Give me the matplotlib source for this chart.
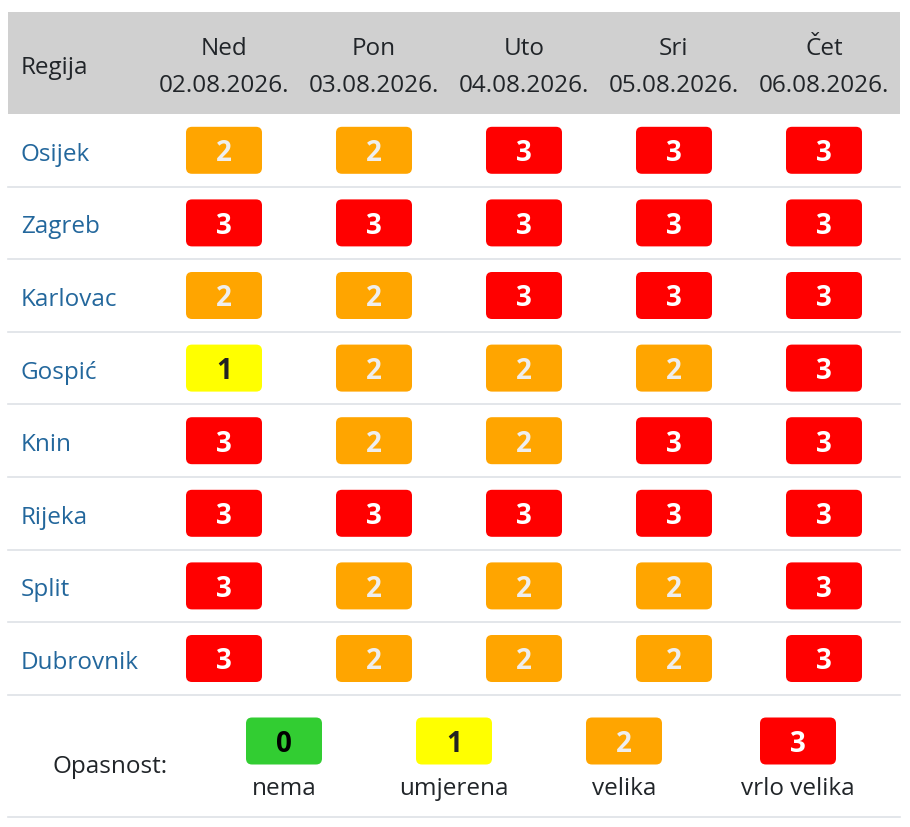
import matplotlib
matplotlib.use("Agg")
import matplotlib.pyplot as plt
from matplotlib.patches import FancyBboxPatch, Rectangle

plt.rcParams['font.family'] = ['Open Sans', 'DejaVu Sans']

# data
regions = ["Osijek", "Zagreb", "Karlovac", "Gospić", "Knin", "Rijeka", "Split", "Dubrovnik"]
days = ["Ned", "Pon", "Uto", "Sri", "Čet"]
dates = ["02.08.2026.", "03.08.2026.", "04.08.2026.", "05.08.2026.", "06.08.2026."]
levels = [
    [2, 2, 3, 3, 3],
    [3, 3, 3, 3, 3],
    [2, 2, 3, 3, 3],
    [1, 2, 2, 2, 3],
    [3, 2, 2, 3, 3],
    [3, 3, 3, 3, 3],
    [3, 2, 2, 2, 3],
    [3, 2, 2, 2, 3],
]
legend_levels = [0, 1, 2, 3]
legend_names = ["nema", "umjerena", "velika", "vrlo velika"]

fill = {0: "#32cd32", 1: "#ffff00", 2: "#ffa500", 3: "#ff0000"}
ink = {0: "#000000", 1: "#222222", 2: "#eeeeee", 3: "#ffffff"}

W, H = 910, 828
fig = plt.figure(figsize=(W / 100, H / 100), dpi=100)
ax = fig.add_axes([0, 0, 1, 1])
ax.set_xlim(0, W)
ax.set_ylim(H, 0)
ax.axis("off")

left, right = 8, 900
head_top, head_bot = 13, 115
row_h = 72.6
col_x = [224, 374, 524, 674, 824]
bw, bh = 76, 47
fs = 17.5


def badge(cx, cy, lvl):
    ax.add_patch(FancyBboxPatch((cx - bw / 2 + 6, cy - bh / 2 + 6), bw - 12, bh - 12,
                                boxstyle="round,pad=6", fc=fill[lvl], ec="none", zorder=2))
    ax.text(cx, cy + 2.5, str(lvl), ha="center", va="center", fontsize=20,
            fontweight="bold", color=ink[lvl], zorder=3)


# header
ax.add_patch(Rectangle((left, head_top), right - left, head_bot - head_top,
                       fc="#d0d0d0", ec="none"))
ax.text(21, 68, "Regija", ha="left", va="center", fontsize=fs, color="#212529")
for x, d, dt in zip(col_x, days, dates):
    ax.text(x, 49, d, ha="center", va="center", fontsize=fs, color="#212529")
    ax.text(x, 86, dt, ha="center", va="center", fontsize=fs, color="#212529")

# rows
for i, (name, row) in enumerate(zip(regions, levels)):
    top = head_bot + i * row_h
    cy = top + row_h / 2
    ax.text(21, cy + 3.5, name, ha="left", va="center", fontsize=fs, color="#23679c")
    for x, lvl in zip(col_x, row):
        badge(x, cy, lvl)
    ax.plot([left, right], [top + row_h, top + row_h], color="#dee2e6", lw=1.2)

# legend
leg_x = [284, 454, 624, 798]
ax.text(52, 767, "Opasnost:", ha="left", va="center", fontsize=fs, color="#212529")
for x, lvl, nm in zip(leg_x, legend_levels, legend_names):
    badge(x, 742, lvl)
    ax.text(x, 789, nm, ha="center", va="center", fontsize=fs, color="#212529")
ax.plot([left, right], [818, 818], color="#dee2e6", lw=1.2)

fig.savefig("out.png", dpi=100, facecolor="white")
